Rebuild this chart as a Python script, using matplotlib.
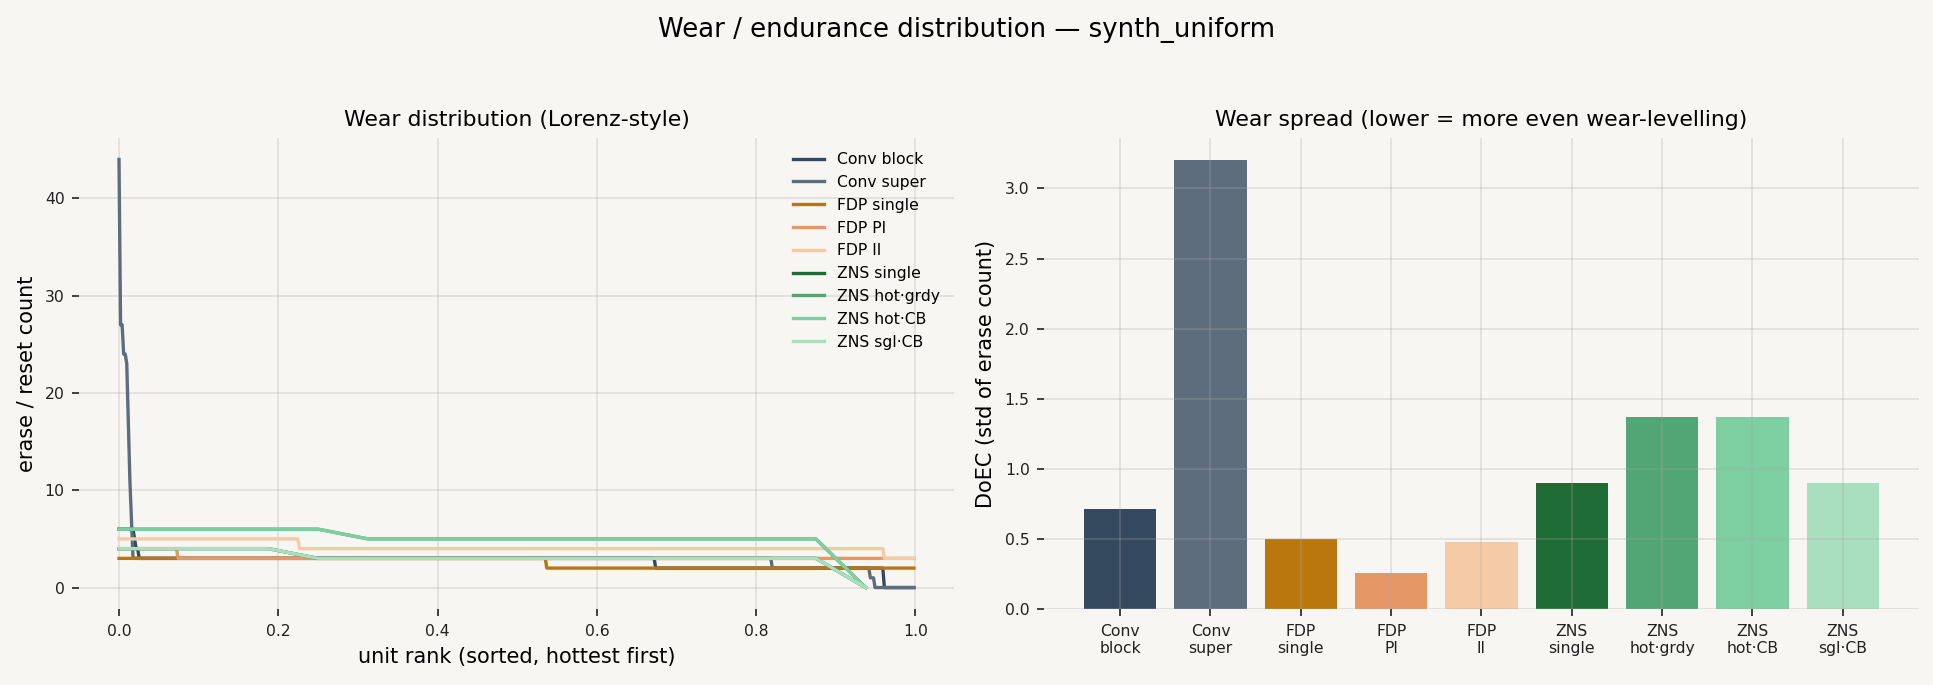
import numpy as np
import matplotlib
matplotlib.use("Agg")
import matplotlib.pyplot as plt

# scheme names, colours
schemes = ["Conv block", "Conv super", "FDP single", "FDP PI", "FDP II",
           "ZNS single", "ZNS hot·grdy", "ZNS hot·CB", "ZNS sgl·CB"]
tick_names = ["Conv\nblock", "Conv\nsuper", "FDP\nsingle", "FDP\nPI", "FDP\nII",
              "ZNS\nsingle", "ZNS\nhot·grdy", "ZNS\nhot·CB", "ZNS\nsgl·CB"]
colors = ["#34495e", "#5d6d7e", "#b9770e", "#e59866", "#f5cba7",
          "#1e6b35", "#52a575", "#7dcea0", "#a9dfbf"]

# sorted erase counts per unit, stored as (level, number of units at that level)
conv_block_levels = [6, 5, 4, 3, 2, 0]
conv_block_counts = [10, 1, 2, 332, 147, 20]
conv_super_levels = [44, 27, 24, 23, 17, 11, 7, 3, 2, 1, 0]
conv_super_counts = [1, 2, 2, 1, 1, 1, 1, 411, 63, 3, 26]
fdp_single_levels = [3, 2]
fdp_single_counts = [275, 237]
fdp_pi_levels = [4, 3]
fdp_pi_counts = [38, 474]
fdp_ii_levels = [5, 4, 3]
fdp_ii_counts = [116, 376, 20]
zns_single_levels = [4, 3, 0]
zns_single_counts = [4, 11, 1]
zns_hot_grdy_levels = [6, 5, 0]
zns_hot_grdy_counts = [5, 10, 1]
zns_hot_cb_levels = [6, 5, 0]
zns_hot_cb_counts = [5, 10, 1]
zns_sgl_cb_levels = [4, 3, 0]
zns_sgl_cb_counts = [4, 11, 1]

# std of erase count per scheme
doec = [0.71, 3.2, 0.5, 0.26, 0.48, 0.9, 1.37, 1.37, 0.9]

series = [
    (conv_block_levels, conv_block_counts),
    (conv_super_levels, conv_super_counts),
    (fdp_single_levels, fdp_single_counts),
    (fdp_pi_levels, fdp_pi_counts),
    (fdp_ii_levels, fdp_ii_counts),
    (zns_single_levels, zns_single_counts),
    (zns_hot_grdy_levels, zns_hot_grdy_counts),
    (zns_hot_cb_levels, zns_hot_cb_counts),
    (zns_sgl_cb_levels, zns_sgl_cb_counts),
]

bg = "#f7f6f2"

fig, (ax1, ax2) = plt.subplots(1, 2, figsize=(1933 / 150, 685 / 150), dpi=150)
fig.patch.set_facecolor(bg)
fig.subplots_adjust(left=0.041, right=0.9926, bottom=0.111, top=0.7985, wspace=0.1036)

for (levels, counts), name, c in zip(series, schemes, colors):
    y = np.repeat(levels, counts)
    x = np.arange(len(y)) / len(y)
    ax1.plot(x, y, color=c, lw=1.6, label=name)

ax1.set_title("Wear distribution (Lorenz-style)", fontsize=10.5)
ax1.set_xlabel("unit rank (sorted, hottest first)", fontsize=10)
ax1.set_ylabel("erase / reset count", fontsize=10)
ax1.set_yticks([0, 10, 20, 30, 40])
ax1.legend(loc="upper right", fontsize=7.5, frameon=False)

ax2.bar(range(len(doec)), doec, color=colors, width=0.8)
ax2.set_xticks(range(len(doec)))
ax2.set_xticklabels(tick_names)
ax2.set_title("Wear spread (lower = more even wear-levelling)", fontsize=10.5)
ax2.set_ylabel("DoEC (std of erase count)", fontsize=10)

for ax in (ax1, ax2):
    ax.set_facecolor(bg)
    for s in ax.spines.values():
        s.set_visible(False)
    ax.grid(True, color="#a8a8a8", alpha=0.3, lw=0.8)
    ax.tick_params(labelsize=7.5, colors="#222222", length=3.5, width=0.8)

fig.suptitle("Wear / endurance distribution — synth_uniform", fontsize=12.5, y=0.975)

fig.savefig("out.png", dpi=150, facecolor=bg)
